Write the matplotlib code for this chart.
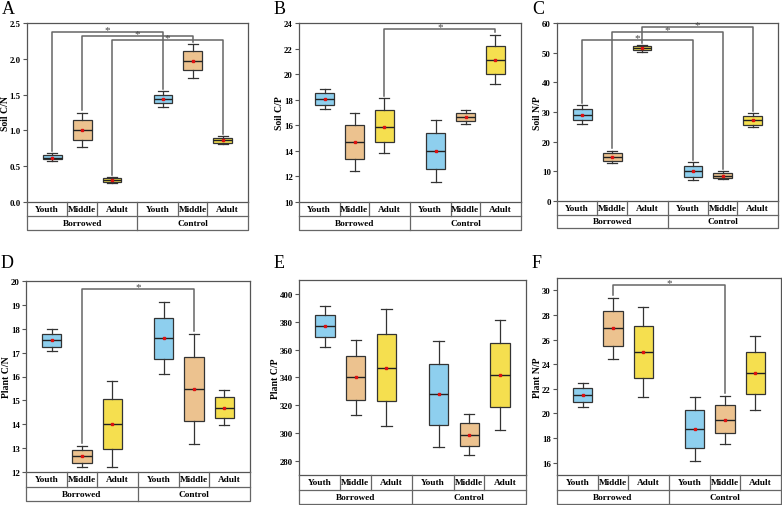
import numpy as np
import matplotlib
matplotlib.use("Agg")
import matplotlib.pyplot as plt

plt.rcParams['font.family'] = ['Liberation Serif', 'DejaVu Serif']

# ---- data ----
ages = ["Youth", "Middle", "Adult", "Youth", "Middle", "Adult"]
groups = ["Borrowed", "Control"]
colors = ["#8ecfee", "#ecc28f", "#f5df4f"] * 2

# A  Soil C/N
soil_cn_lo = [0.57, 0.77, 0.27, 1.33, 1.73, 0.81]
soil_cn_q1 = [0.60, 0.87, 0.28, 1.38, 1.84, 0.83]
soil_cn_med = [0.62, 1.01, 0.31, 1.44, 1.97, 0.86]
soil_cn_q3 = [0.66, 1.15, 0.33, 1.50, 2.11, 0.89]
soil_cn_hi = [0.68, 1.25, 0.35, 1.55, 2.21, 0.92]
soil_cn_mean = [0.62, 1.01, 0.31, 1.44, 1.97, 0.86]

# B  Soil C/P
soil_cp_lo = [17.3, 12.4, 13.8, 11.6, 16.1, 19.2]
soil_cp_q1 = [17.6, 13.4, 14.7, 12.6, 16.35, 20.0]
soil_cp_med = [18.05, 14.7, 15.9, 14.0, 16.65, 21.1]
soil_cp_q3 = [18.5, 16.0, 17.2, 15.4, 16.95, 22.2]
soil_cp_hi = [18.8, 17.0, 18.1, 16.4, 17.2, 23.1]
soil_cp_mean = [18.05, 14.7, 15.9, 14.0, 16.65, 21.1]

# C  Soil N/P
soil_np_lo = [26.0, 12.8, 50.3, 7.0, 7.3, 24.8]
soil_np_q1 = [27.3, 13.6, 50.8, 8.2, 7.8, 25.7]
soil_np_med = [29.0, 15.0, 51.5, 10.0, 8.5, 27.2]
soil_np_q3 = [31.0, 16.2, 52.1, 11.8, 9.3, 28.7]
soil_np_hi = [32.3, 17.0, 52.6, 13.0, 10.0, 29.5]
soil_np_mean = [29.0, 15.0, 51.5, 10.0, 8.5, 27.2]

# D  Plant C/N
plant_cn_lo = [17.05, 12.2, 12.2, 16.1, 13.17, 13.95]
plant_cn_q1 = [17.25, 12.38, 12.97, 16.75, 14.15, 14.25]
plant_cn_med = [17.52, 12.65, 14.0, 17.6, 15.48, 14.7]
plant_cn_q3 = [17.8, 12.92, 15.05, 18.47, 16.82, 15.13]
plant_cn_hi = [18.0, 13.1, 15.8, 19.1, 17.8, 15.45]
plant_cn_mean = [17.52, 12.65, 14.0, 17.6, 15.48, 14.7]

# E  Plant C/P
plant_cp_lo = [362, 313, 305, 290, 284, 302]
plant_cp_q1 = [369, 324, 323, 306, 290.5, 318.5]
plant_cp_med = [377, 340, 347, 328, 299, 341.5]
plant_cp_q3 = [385, 355.5, 371.5, 350, 307.5, 364.5]
plant_cp_hi = [391, 367, 389, 366, 314, 381]
plant_cp_mean = [377, 340, 347, 328, 299, 341.5]

# F  Plant N/P
plant_np_lo = [20.5, 24.45, 21.3, 16.1, 17.55, 20.3]
plant_np_q1 = [20.9, 25.5, 22.85, 17.2, 18.4, 21.55]
plant_np_med = [21.5, 26.95, 25.0, 18.75, 19.5, 23.25]
plant_np_q3 = [22.1, 28.3, 27.1, 20.25, 20.65, 25.0]
plant_np_hi = [22.5, 29.4, 28.65, 21.35, 21.45, 26.25]
plant_np_mean = [21.5, 26.95, 25.0, 18.75, 19.5, 23.25]

# significance brackets: (box i, box j, height)
brackets_a = [(0, 3, 2.375), (1, 4, 2.32), (2, 5, 2.267)]
brackets_b = [(2, 5, 23.5)]
brackets_c = [(0, 3, 54.2), (1, 4, 57.0), (2, 5, 58.5)]
brackets_d = [(1, 4, 19.67)]
brackets_e = []
brackets_f = [(1, 4, 30.46)]

W, H = 782, 506
fig = plt.figure(figsize=(W / 100, H / 100), dpi=100)

positions = [0.23, 0.5, 0.77, 1.23, 1.5, 1.77]
cell_edges = [0.365, 0.63]
edge_col = "#555555"


def panel(letter, px, stats, ylabel, ylim, yticks, fmt, brackets):
    x0, x1, top, pb, tb, ly, lab_off = px
    ax = fig.add_axes([x0 / W, 1 - pb / H, (x1 - x0) / W, (pb - top) / H])
    lo, q1, med, q3, hi, mean = stats
    bxp_stats = [dict(whislo=lo[k], q1=q1[k], med=med[k], q3=q3[k],
                      whishi=hi[k], mean=mean[k], fliers=[]) for k in range(6)]
    bp = ax.bxp(bxp_stats, positions=positions, widths=0.17, patch_artist=True,
                showmeans=True, showfliers=False,
                boxprops=dict(edgecolor="#333333", linewidth=0.9),
                medianprops=dict(color="#222222", linewidth=1.0),
                whiskerprops=dict(color="#333333", linewidth=0.9),
                capprops=dict(color="#333333", linewidth=0.9),
                capwidths=0.09,
                meanprops=dict(marker="s", markersize=1.8, markerfacecolor="#dd1111",
                               markeredgecolor="#dd1111"))
    for patch, c in zip(bp["boxes"], colors):
        patch.set_facecolor(c)
    ax.set_xlim(0, 2)
    ax.set_ylim(*ylim)
    ax.set_yticks(yticks)
    ax.set_yticklabels([fmt.format(v) for v in yticks], fontsize=6.3, fontweight="bold")
    ax.set_xticks([])
    ax.tick_params(axis="y", length=3, width=0.8, pad=1.5, color=edge_col)
    for s in ax.spines.values():
        s.set_color(edge_col)
        s.set_linewidth(0.9)
    ax.set_ylabel(ylabel, fontsize=7, fontweight="bold", va="center")
    ax.yaxis.set_label_coords(-lab_off / (x1 - x0), 0.5)

    rng = ylim[1] - ylim[0]
    for i, j, yb in brackets:
        xi, xj = positions[i], positions[j]
        ax.plot([xi, xi, xj, xj], [hi[i] + 0.012 * rng, yb, yb, hi[j] + 0.012 * rng],
                color="#666666", lw=1.1, zorder=1)
        ax.text((xi + xj) / 2, yb - 0.012 * rng, "*", ha="center", va="bottom",
                fontsize=8, color="#444444")

    # category table below the plot
    tx = fig.add_axes([x0 / W, 1 - tb / H, (x1 - x0) / W, (tb - pb) / H])
    tx.set_xlim(0, 2)
    tx.set_ylim(0, 2)
    tx.axis("off")
    lk = dict(color="#666666", lw=0.9, clip_on=False)
    tx.plot([0, 0, 2, 2], [2, 0, 0, 2], **lk)
    tx.plot([0, 2], [1, 1], **lk)
    tx.plot([1, 1], [0, 2], **lk)
    for g in range(2):
        for e in cell_edges:
            tx.plot([g + e, g + e], [1, 2], **lk)
        bounds = [g, g + cell_edges[0], g + cell_edges[1], g + 1]
        for k in range(3):
            tx.text((bounds[k] + bounds[k + 1]) / 2, 1.5, ages[3 * g + k],
                    ha="center", va="center", fontsize=6.7, fontweight="bold")
        tx.text(g + 0.5, 0.5, groups[g], ha="center", va="center",
                fontsize=6.7, fontweight="bold")

    fig.text((x0 - 25) / W, 1 - ly / H, letter, fontsize=13,
             ha="left", va="center")


panel("A", (27, 248, 24, 203, 231, 9, 21),
      (soil_cn_lo, soil_cn_q1, soil_cn_med, soil_cn_q3, soil_cn_hi, soil_cn_mean),
      "Soil C/N", (0, 2.5), np.arange(0, 2.51, 0.5), "{:.1f}", brackets_a)
panel("B", (299, 521, 24, 203, 231, 9, 20),
      (soil_cp_lo, soil_cp_q1, soil_cp_med, soil_cp_q3, soil_cp_hi, soil_cp_mean),
      "Soil C/P", (10, 24), np.arange(10, 25, 2), "{:.0f}", brackets_b)
panel("C", (557, 778, 24, 202, 229, 9, 19),
      (soil_np_lo, soil_np_q1, soil_np_med, soil_np_q3, soil_np_hi, soil_np_mean),
      "Soil N/P", (0, 60), np.arange(0, 61, 10), "{:.0f}", brackets_c)
panel("D", (26, 250, 282, 473, 502, 263, 20),
      (plant_cn_lo, plant_cn_q1, plant_cn_med, plant_cn_q3, plant_cn_hi, plant_cn_mean),
      "Plant C/N", (12, 20), np.arange(12, 21, 1), "{:.0f}", brackets_d)
panel("E", (299, 526, 281, 476, 505, 263, 23),
      (plant_cp_lo, plant_cp_q1, plant_cp_med, plant_cp_q3, plant_cp_hi, plant_cp_mean),
      "Plant C/P", (270, 410), np.arange(280, 401, 20), "{:.0f}", brackets_e)
panel("F", (557, 781, 279, 476, 505, 263, 19),
      (plant_np_lo, plant_np_q1, plant_np_med, plant_np_q3, plant_np_hi, plant_np_mean),
      "Plant N/P", (15, 31), np.arange(16, 31, 2), "{:.0f}", brackets_f)

fig.savefig("out.png", dpi=100)
